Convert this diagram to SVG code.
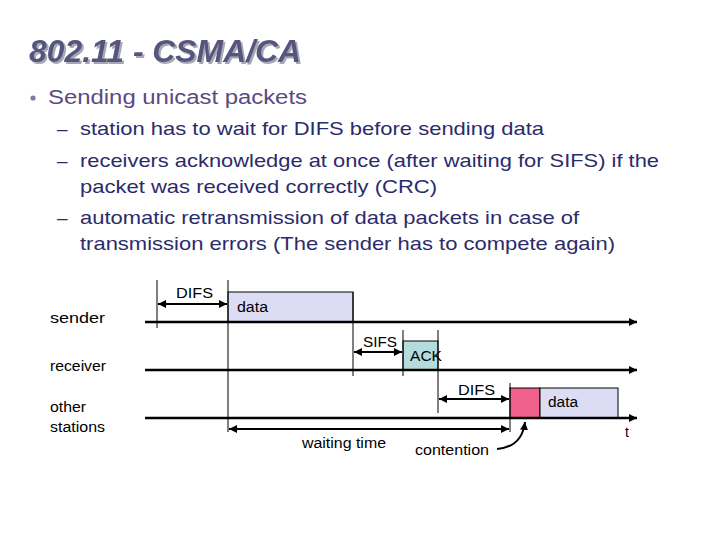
<svg xmlns="http://www.w3.org/2000/svg" width="720" height="540" viewBox="0 0 720 540">
<style>
.t{font-family:"Liberation Sans",Arial,sans-serif}
.title{font-size:31px;font-weight:bold;font-style:italic;fill:#55557f}
.b1{font-size:20px;fill:#5a4a80}
.b2{font-size:19px;fill:#2b2b6b}
.lbl{font-size:14px;fill:#000}
.tl{stroke:#000;stroke-width:2.5;fill:none}
.v{stroke:#000;stroke-width:1;fill:none}
.dim{stroke:#000;stroke-width:2;fill:none}
</style>
<defs>
<marker id="ah" markerUnits="userSpaceOnUse" markerWidth="9" markerHeight="8" refX="8" refY="4" orient="auto-start-reverse">
<path d="M0,0 L8,4 L0,8 z" fill="#000"/>
</marker>
<filter id="sh" x="-5%" y="-20%" width="115%" height="150%">
<feDropShadow dx="2" dy="2" stdDeviation="0.6" flood-color="#a8a8b4" flood-opacity="1"/>
</filter>
</defs>
<rect width="720" height="540" fill="#fff"/>
<g id="title">
<text class="t title" x="29" y="62" textLength="272" lengthAdjust="spacingAndGlyphs" filter="url(#sh)">802.11 - CSMA/CA</text>
</g>
<g id="bullets">
<circle cx="33" cy="98" r="2.6" fill="#8a74a8"/>
<text class="t b1" x="48" y="104" textLength="259" lengthAdjust="spacingAndGlyphs">Sending unicast packets</text>
<text class="t b2" x="57" y="135">–</text>
<text class="t b2" x="80" y="135" textLength="464" lengthAdjust="spacingAndGlyphs">station has to wait for DIFS before sending data</text>
<text class="t b2" x="57" y="167">–</text>
<text class="t b2" x="80" y="167" textLength="579" lengthAdjust="spacingAndGlyphs">receivers acknowledge at once (after waiting for SIFS) if the</text>
<text class="t b2" x="80" y="193" textLength="357" lengthAdjust="spacingAndGlyphs">packet was received correctly (CRC)</text>
<text class="t b2" x="57" y="224">–</text>
<text class="t b2" x="80" y="224" textLength="499" lengthAdjust="spacingAndGlyphs">automatic retransmission of data packets in case of</text>
<text class="t b2" x="80" y="250" textLength="535" lengthAdjust="spacingAndGlyphs">transmission errors (The sender has to compete again)</text>
</g>
<g id="stations">
<text class="t lbl" x="50" y="323" textLength="55" lengthAdjust="spacingAndGlyphs">sender</text>
<text class="t lbl" x="50" y="371" textLength="56" lengthAdjust="spacingAndGlyphs">receiver</text>
<text class="t lbl" x="50" y="412" textLength="36" lengthAdjust="spacingAndGlyphs">other</text>
<text class="t lbl" x="50" y="432" textLength="55" lengthAdjust="spacingAndGlyphs">stations</text>
</g>
<g id="sender-data">
<rect x="228" y="292" width="125" height="30" fill="#dcdcf4" stroke="#000" stroke-width="1"/>
<text class="t lbl" x="237" y="312" textLength="31" lengthAdjust="spacingAndGlyphs">data</text>
</g>
<g id="ack">
<rect x="403" y="341" width="35" height="29" fill="#b4dcdc" stroke="#000" stroke-width="1"/>
<text class="t lbl" x="410" y="361" textLength="32" lengthAdjust="spacingAndGlyphs">ACK</text>
</g>
<g id="contention-slot">
<rect x="510" y="388" width="30" height="30" fill="#f0608c" stroke="#000" stroke-width="1"/>
</g>
<g id="other-data">
<rect x="540" y="388" width="78" height="30" fill="#dcdcf4" stroke="#000" stroke-width="1"/>
<text class="t lbl" x="548" y="407" textLength="30" lengthAdjust="spacingAndGlyphs">data</text>
</g>
<g id="connectors">
<line class="tl" x1="145" y1="322" x2="637" y2="322" marker-end="url(#ah)"/>
<line class="tl" x1="145" y1="370" x2="637" y2="370" marker-end="url(#ah)"/>
<line class="tl" x1="145" y1="418" x2="637" y2="418" marker-end="url(#ah)"/>
<line class="v" x1="157" y1="280" x2="157" y2="328"/>
<line class="v" x1="228" y1="280" x2="228" y2="432"/>
<line class="v" x1="353" y1="292" x2="353" y2="376"/>
<line class="v" x1="403" y1="330" x2="403" y2="376"/>
<line class="v" x1="438" y1="330" x2="438" y2="413"/>
<line class="v" x1="510" y1="383" x2="510" y2="432"/>
<line class="dim" x1="158" y1="304" x2="227" y2="304" marker-start="url(#ah)" marker-end="url(#ah)"/>
<line class="dim" x1="354" y1="352" x2="402" y2="352" marker-start="url(#ah)" marker-end="url(#ah)"/>
<line class="dim" x1="439" y1="399" x2="509" y2="399" marker-start="url(#ah)" marker-end="url(#ah)"/>
<line class="dim" x1="229" y1="429" x2="509" y2="429" marker-start="url(#ah)" marker-end="url(#ah)"/>
<path class="dim" d="M497,449 Q522,447 525,422" marker-end="url(#ah)"/>
</g>
<g id="labels">
<text class="t lbl" x="176" y="298" textLength="37" lengthAdjust="spacingAndGlyphs">DIFS</text>
<text class="t lbl" x="363" y="347" textLength="34" lengthAdjust="spacingAndGlyphs">SIFS</text>
<text class="t lbl" x="458" y="395" textLength="37" lengthAdjust="spacingAndGlyphs">DIFS</text>
<text class="t lbl" x="302" y="448" textLength="84" lengthAdjust="spacingAndGlyphs">waiting time</text>
<text class="t lbl" x="415" y="455" textLength="74" lengthAdjust="spacingAndGlyphs">contention</text>
<text class="t lbl" x="625" y="437">t</text>
</g>
</svg>
